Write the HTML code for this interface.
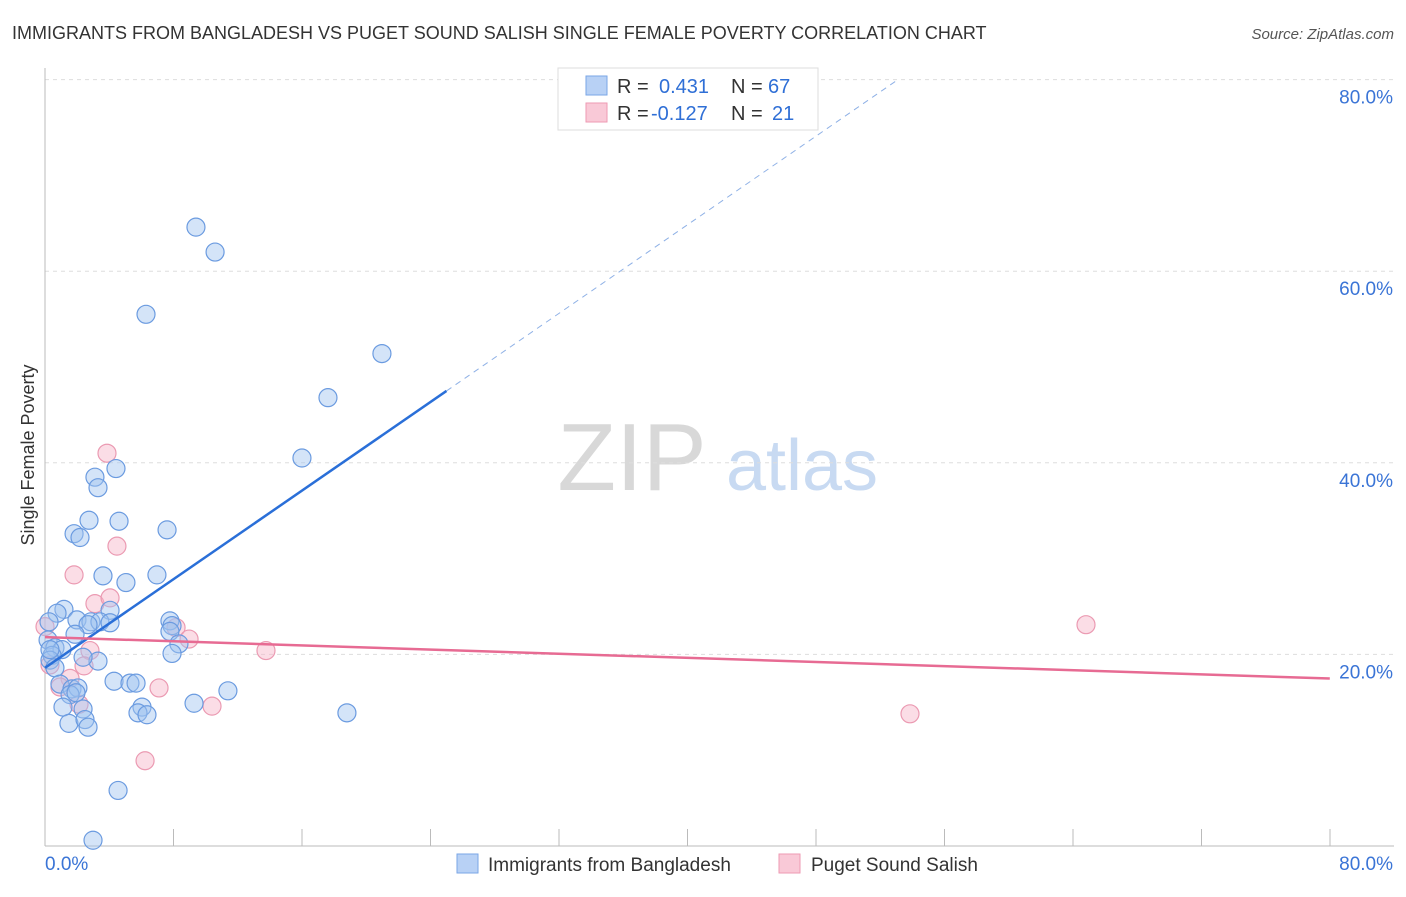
<!DOCTYPE html>
<html><head><meta charset="utf-8"><style>
body{margin:0;background:#fff;font-family:"Liberation Sans",sans-serif}
svg text{font-family:"Liberation Sans",sans-serif}
</style></head><body>
<svg id="chart" width="1406" height="892" xmlns="http://www.w3.org/2000/svg">
<text x="12" y="39" font-size="18" fill="#333">IMMIGRANTS FROM BANGLADESH VS PUGET SOUND SALISH SINGLE FEMALE POVERTY CORRELATION CHART</text>
<text x="1394" y="39" font-size="15" fill="#555" text-anchor="end" font-style="italic">Source: ZipAtlas.com</text>
<g>
<text x="632" y="490" font-size="96" fill="#d8d8d8" font-family="Liberation Serif" text-anchor="middle">ZIP</text>
<text x="802" y="490" font-size="72" fill="#c8daf2" text-anchor="middle">atlas</text>
</g>
<g id="grid"></g>
<g id="axes"></g>
<g id="marks"></g>
<g>
<rect x="558" y="68" width="260" height="62" fill="#fff" stroke="#ddd"/>
<rect x="586" y="76" width="21" height="19" fill="#b8d1f5" stroke="#7aa6e6"/>
<rect x="586" y="103" width="21" height="19" fill="#f9c9d7" stroke="#ee9ab3"/>
<text x="617" y="93" font-size="20" fill="#333">R =</text>
<text x="659" y="93" font-size="20" fill="#2f6fd6">0.431</text>
<text x="731" y="93" font-size="20" fill="#333">N =</text>
<text x="768" y="93" font-size="20" fill="#2f6fd6">67</text>
<text x="617" y="120" font-size="20" fill="#333">R =</text>
<text x="651" y="120" font-size="20" fill="#2f6fd6">-0.127</text>
<text x="731" y="120" font-size="20" fill="#333">N =</text>
<text x="772" y="120" font-size="20" fill="#2f6fd6">21</text>
</g>
<g>
<rect x="457" y="854" width="21" height="19" fill="#b8d1f5" stroke="#7aa6e6"/>
<text x="488" y="871" font-size="19" fill="#333">Immigrants from Bangladesh</text>
<rect x="779" y="854" width="21" height="19" fill="#f9c9d7" stroke="#ee9ab3"/>
<text x="811" y="871" font-size="19" fill="#333">Puget Sound Salish</text>
</g>
<text transform="translate(34,455) rotate(-90)" font-size="18" fill="#333" text-anchor="middle">Single Female Poverty</text>
</svg>
<script>
const blueX=[9.40,10.59,6.29,20.98,17.62,16.00,4.42,3.11,3.30,2.74,4.61,1.81,2.18,7.60,3.61,5.04,6.97,1.18,0.75,4.05,1.99,2.86,3.42,4.05,2.68,7.78,7.91,7.78,1.87,0.25,0.19,0.62,1.06,0.44,0.31,0.62,8.34,7.91,3.30,2.37,0.93,1.68,2.05,1.56,1.93,4.30,5.29,5.67,11.39,1.12,2.37,6.04,5.79,6.35,9.28,18.80,1.49,2.49,2.68,4.55,2.99,0.31];
const blueY=[64.6,62.0,55.5,51.4,46.8,40.5,39.4,38.5,37.4,34.0,33.9,32.6,32.2,33.0,28.2,27.5,28.3,24.7,24.3,24.6,23.6,23.4,23.4,23.3,23.1,23.5,23.0,22.4,22.1,23.4,21.5,20.7,20.5,19.9,19.4,18.6,21.1,20.1,19.3,19.7,16.9,16.4,16.5,15.8,16.0,17.2,17.0,17.0,16.2,14.5,14.3,14.5,13.9,13.7,14.9,13.9,12.8,13.2,12.4,5.8,0.6,20.5];
const pinkX=[3.86,4.48,1.81,3.11,4.05,0.0,8.16,8.97,13.76,2.80,2.43,1.56,0.93,2.12,7.10,10.40,6.23,64.82,53.86,0.31];
const pinkY=[41.0,31.3,28.3,25.3,25.9,22.9,22.8,21.6,20.4,20.4,18.8,17.5,16.6,14.8,16.5,14.6,8.9,23.1,13.8,18.9];
const yTicks=[20,40,60,80];
const yTickLabels=["20.0%","40.0%","60.0%","80.0%"];
const blueTrend=[18.6,1.156]; // intercept, slope
const pinkTrend=[21.8,-0.054];
const NS="http://www.w3.org/2000/svg";
const X=v=>45+v*16.06, Y=v=>846-v*9.58;
function mk(t,a,p){const e=document.createElementNS(NS,t);for(const k in a)e.setAttribute(k,a[k]);p.appendChild(e);return e;}
const grid=document.getElementById('grid'),axes=document.getElementById('axes'),marks=document.getElementById('marks');
yTicks.forEach((t,i)=>{
 const l=mk('line',{x1:45,x2:1394,y1:Y(t),y2:Y(t),stroke:'#ddd','stroke-dasharray':'4,4'},grid);
 
 
 const tx=mk('text',{x:1393,y:Y(t)+24,'font-size':19,fill:'#3a74d6','text-anchor':'end'},axes);
 tx.textContent=yTickLabels[i];
 
 
});
mk('line',{x1:45,x2:45,y1:68,y2:846,stroke:'#bbb'},axes);
mk('line',{x1:45,x2:1394,y1:846,y2:846,stroke:'#bbb'},axes);
for(let i=1;i<=10;i++){mk('line',{x1:45+i*128.5,x2:45+i*128.5,y1:829,y2:846,stroke:'#bbb'},axes);}
let t0=mk('text',{x:45,y:870,'font-size':19,fill:'#3a74d6'},axes);t0.textContent='0.0%';

let t1=mk('text',{x:1393,y:870,'font-size':19,fill:'#3a74d6','text-anchor':'end'},axes);t1.textContent='80.0%';

pinkX.forEach((x,i)=>{const c=mk('circle',{cx:X(x),cy:Y(pinkY[i]),r:9,fill:'rgba(246,180,200,0.45)',stroke:'#eb9ab2','stroke-width':1.2},marks);
 
 });
blueX.forEach((x,i)=>{const c=mk('circle',{cx:X(x),cy:Y(blueY[i]),r:9,fill:'rgba(160,195,240,0.45)',stroke:'#6b9be0','stroke-width':1.2},marks);
 
 });
const bf=x=>blueTrend[0]+blueTrend[1]*x;
let bl=mk('line',{x1:X(0),y1:Y(bf(0)),x2:X(25),y2:Y(bf(25)),stroke:'#2a6fd8','stroke-width':2.5},marks);

let bd=mk('line',{x1:X(25),y1:Y(bf(25)),x2:X(53),y2:Y(bf(53)),stroke:'#8fb1e6','stroke-width':1,'stroke-dasharray':'6,5'},marks);

const pf=x=>pinkTrend[0]+pinkTrend[1]*x;
let pl=mk('line',{x1:X(0),y1:Y(pf(0)),x2:X(80),y2:Y(pf(80)),stroke:'#e76b93','stroke-width':2.5},marks);

</script>
</body></html>
